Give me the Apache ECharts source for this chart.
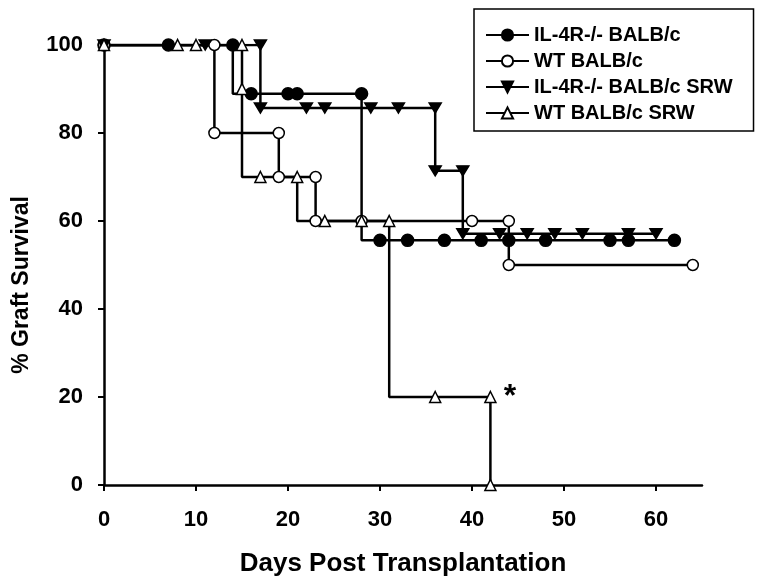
<!DOCTYPE html>
<html>
<head>
<meta charset="utf-8">
<script src="https://cdn.jsdelivr.net/npm/echarts@6/dist/echarts.min.js"></script>
<style>
  html, body { margin: 0; padding: 0; background: #fff; }
  #chart { width: 762px; height: 587px; }
</style>
</head>
<body>
<div id="chart"></div>
<script>
// tick labels
var xTicks = [0, 10, 20, 30, 40, 50, 60];
var yTicks = [0, 20, 40, 60, 80, 100];

// IL-4R-/- BALB/c (filled circle)
var il4rDays = [0, 7, 14, 14, 16, 20, 21, 28, 28, 30, 33, 37, 41, 44, 48, 55, 57, 62];
var il4rSurv = [100, 100, 100, 88.9, 88.9, 88.9, 88.9, 88.9, 55.6, 55.6, 55.6, 55.6, 55.6, 55.6, 55.6, 55.6, 55.6, 55.6];
var il4rMark = [1, 1, 1, 0, 1, 1, 1, 1, 0, 1, 1, 1, 1, 1, 1, 1, 1, 1];

// WT BALB/c (open circle)
var wtDays = [0, 12, 12, 19, 19, 23, 23, 28, 40, 44, 44, 64];
var wtSurv = [100, 100, 80, 80, 70, 70, 60, 60, 60, 60, 50, 50];
var wtMark = [1, 1, 1, 1, 1, 1, 1, 1, 1, 1, 1, 1];

// IL-4R-/- BALB/c SRW (filled down triangle)
var il4rSrwDays = [0, 11, 17, 17, 22, 24, 29, 32, 36, 36, 39, 39, 43, 46, 49, 52, 57, 60];
var il4rSrwSurv = [100, 100, 100, 85.7, 85.7, 85.7, 85.7, 85.7, 85.7, 71.4, 71.4, 57.1, 57.1, 57.1, 57.1, 57.1, 57.1, 57.1];
var il4rSrwMark = [1, 1, 1, 1, 1, 1, 1, 1, 1, 1, 1, 1, 1, 1, 1, 1, 1, 1];

// WT BALB/c SRW (open triangle)
var wtSrwDays = [0, 8, 10, 15, 15, 15, 17, 21, 21, 24, 28, 31, 31, 36, 42, 42];
var wtSrwSurv = [100, 100, 100, 100, 90, 70, 70, 70, 60, 60, 60, 60, 20, 20, 20, 0];
var wtSrwMark = [1, 1, 1, 1, 1, 0, 1, 1, 0, 1, 1, 1, 0, 1, 1, 1];

var names = ['IL-4R-/- BALB/c', 'WT BALB/c', 'IL-4R-/- BALB/c SRW', 'WT BALB/c SRW'];

var downTri = 'path://M0,0 L12,0 L6,10 Z';

function pts(days, surv, mark) {
    return days.map(function (d, i) {
        var p = { value: [d, surv[i]] };
        if (!mark[i]) p.symbol = 'none';
        return p;
    });
}

function km(name, data, symbol, size, fill) {
    return {
        name: name,
        type: 'line',
        data: data,
        symbol: symbol,
        symbolSize: size,
        showAllSymbol: true,
        animation: false,
        lineStyle: { color: '#000', width: 2.5 },
        itemStyle: { color: fill, borderColor: '#000', borderWidth: 1.5 }
    };
}

var chart = echarts.init(document.getElementById('chart'));

var axisFont = { fontFamily: 'Liberation Sans, Arial, sans-serif', fontWeight: 'bold', color: '#000' };

var option = {
    backgroundColor: '#fff',
    grid: { left: 104, right: 60, top: 45, bottom: 102 },
    legend: {
        orient: 'vertical',
        left: 474,
        top: 9,
        padding: [16, 21, 8, 11],
        itemWidth: 43,
        itemHeight: 14,
        itemGap: 6,
        borderColor: '#000',
        borderWidth: 1.5,
        borderRadius: 0,
        data: names,
        textStyle: { fontFamily: 'Liberation Sans, Arial, sans-serif', fontWeight: 'bold', fontSize: 20, color: '#000' }
    },
    xAxis: {
        type: 'value',
        min: 0,
        max: 65,
        interval: 10,
        name: 'Days Post Transplantation',
        nameLocation: 'middle',
        nameGap: 66,
        nameTextStyle: Object.assign({ fontSize: 26 }, axisFont),
        axisLine: { lineStyle: { color: '#000', width: 2.5 } },
        axisTick: { customValues: xTicks, length: 6, lineStyle: { color: '#000', width: 2 } },
        axisLabel: Object.assign({ customValues: xTicks, fontSize: 22, margin: 24 }, axisFont),
        splitLine: { show: false }
    },
    yAxis: {
        type: 'value',
        min: 0,
        max: 100,
        interval: 20,
        axisLine: { show: true, lineStyle: { color: '#000', width: 2.5 } },
        axisTick: { show: true, length: 6, lineStyle: { color: '#000', width: 2 } },
        axisLabel: Object.assign({ fontSize: 22, margin: 21 }, axisFont),
        splitLine: { show: false }
    },
    graphic: [
        {
            type: 'text',
            x: 22,
            y: 285,
            rotation: Math.PI / 2,
            style: Object.assign({ text: '% Graft Survival', fontSize: 23, align: 'center', verticalAlign: 'middle', fill: '#000' },
                { fontFamily: 'Liberation Sans, Arial, sans-serif', fontWeight: 'bold' })
        },
        {
            type: 'text',
            x: 510,
            y: 397,
            style: { text: '*', fontSize: 32, fontWeight: 'bold', fontFamily: 'Liberation Sans, Arial, sans-serif', align: 'center', verticalAlign: 'middle', fill: '#000' }
        }
    ],
    series: [
        km(names[0], pts(il4rDays, il4rSurv, il4rMark), 'circle', 12, '#000'),
        km(names[1], pts(wtDays, wtSurv, wtMark), 'circle', 11, '#fff'),
        km(names[2], pts(il4rSrwDays, il4rSrwSurv, il4rSrwMark), downTri, [12, 10], '#000'),
        km(names[3], pts(wtSrwDays, wtSrwSurv, wtSrwMark), 'triangle', 11, '#fff')
    ]
};

chart.setOption(option);
</script>
</body>
</html>
